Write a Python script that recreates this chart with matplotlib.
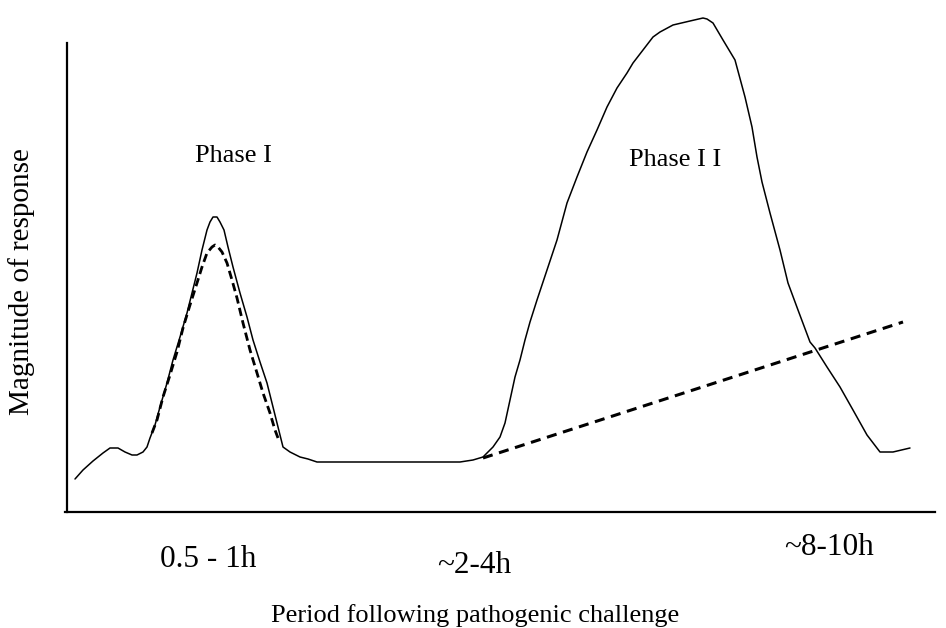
import numpy as np
import matplotlib.pyplot as plt

plt.rcParams["font.family"] = ["Liberation Serif", "DejaVu Serif"]

# response curve (x: time, arbitrary units; y: magnitude, arbitrary units)
response_x = [8, 16, 26, 36, 43, 51, 58, 65, 70, 76, 80, 83, 88, 93, 100, 106,
              113, 120, 125, 130, 135, 140, 143, 146, 150, 153, 157, 161, 166,
              173, 180, 186, 193, 200, 206, 211, 216, 223, 233, 241, 250, 283,
              373, 393, 406, 416, 426, 433, 438, 443, 448, 453, 458, 463, 470,
              480, 490, 500, 510, 520, 530, 540, 550, 560, 566, 576, 586, 593,
              606, 623, 636, 640, 646, 656, 668, 678, 685, 690, 695, 703, 713,
              721, 731, 743, 748, 760, 773, 786, 800, 813, 826, 843]
response_y = [33, 42, 51, 59, 64, 64, 60, 57, 57, 60, 65, 74, 87, 105, 129, 152,
              175, 199, 219, 239, 262, 282, 290, 295, 295, 290, 282, 265, 245,
              219, 195, 172, 150, 129, 105, 85, 65, 60, 55, 53, 50, 50,
              50, 50, 52, 55, 65, 75, 89, 112, 135, 152, 172, 190, 212,
              242, 272, 309, 335, 360, 382, 405, 424, 439, 449, 462, 475, 480,
              487, 491, 494, 493, 489, 472, 452, 415, 385, 355, 330, 299, 262,
              229, 202, 170, 164, 145, 125, 102, 77, 60, 60, 64]

# dashed curve under phase I peak
phase1_x = [85, 90, 96, 103, 110, 116, 123, 130, 135, 140, 145, 148, 151, 155,
            160, 165, 170, 176, 183, 190, 196, 203, 208, 211]
phase1_y = [79, 92, 115, 137, 160, 184, 207, 229, 245, 259, 265, 267, 265, 260,
            249, 232, 214, 189, 162, 139, 119, 99, 82, 74]

# dashed rising line for phase II
trend_x = [416, 836]
trend_y = [54, 190]

time_labels = ["0.5 - 1h", "~2-4h", "~8-10h"]

W, H = 946, 628
fig = plt.figure(figsize=(W / 100, H / 100), dpi=100)
ax = fig.add_axes([67 / W, (H - 512) / H, (W - 67) / W, 512 / H])
ax.set_xlim(0, W - 67)
ax.set_ylim(0, 512)

ax.plot(response_x, response_y, color="black", lw=1.1,
        solid_joinstyle="round", solid_capstyle="round")
ax.plot(phase1_x, phase1_y, color="black", lw=2.0, linestyle=(0, (3.0, 1.6)))
ax.plot(trend_x, trend_y, color="black", lw=2.2, linestyle=(0, (3.3, 2.2)))

for s in ["top", "right"]:
    ax.spines[s].set_visible(False)
ax.spines["left"].set_linewidth(1.6)
ax.spines["bottom"].set_linewidth(1.6)
ax.spines["left"].set_bounds(0, 469)
ax.spines["bottom"].set_bounds(-2, 868)
ax.set_xticks([])
ax.set_yticks([])

def px(x, y):
    return x / W, 1 - y / H

fig.text(*px(233, 162), "Phase I", fontsize=19, ha="center", va="baseline")
fig.text(*px(675, 166), "Phase I I", fontsize=19, ha="center", va="baseline")

label_pos = [(208, 567), (474, 573), (829, 555)]
for lab, (x, y) in zip(time_labels, label_pos):
    fig.text(*px(x, y), lab, fontsize=22.5, ha="center", va="baseline")

fig.text(*px(475, 622), "Period following pathogenic challenge", fontsize=19,
         ha="center", va="baseline")
fig.text(*px(22, 282), "Magnitude of response", fontsize=21, rotation=90,
         ha="center", va="center")

fig.savefig("out.png", dpi=100, facecolor="white")
